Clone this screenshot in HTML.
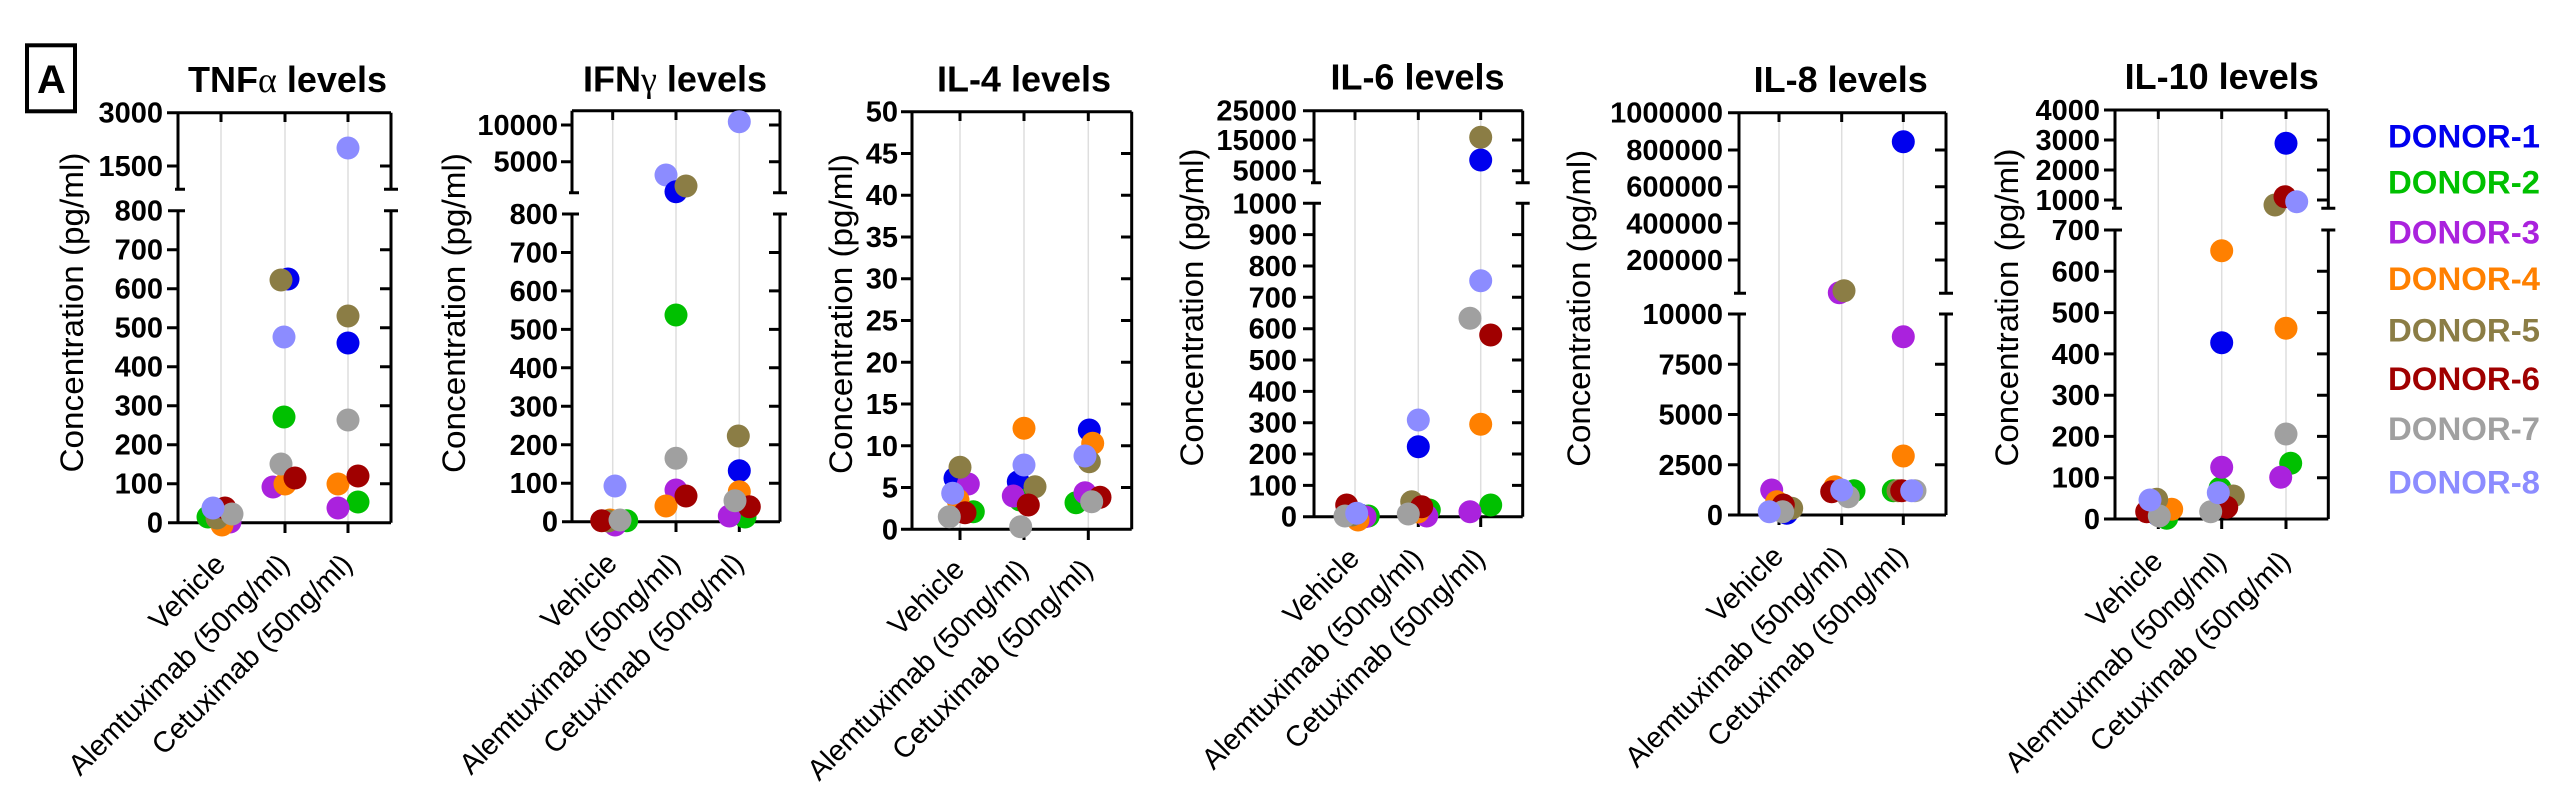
<!DOCTYPE html>
<html>
<head>
<meta charset="utf-8">
<style>
html,body{margin:0;padding:0;background:#fff;}
svg{display:block;}
text{font-family:"Liberation Sans",Arial,sans-serif;fill:#000;}
.t{font-size:36px;font-weight:bold;}
.tk{font-size:29px;font-weight:bold;}
.yt{font-size:32px;}
.xl{font-size:29px;}
.lg{font-size:32px;font-weight:bold;}
.ax{stroke:#000;stroke-width:3;fill:none;}
.gr{stroke:#dedede;stroke-width:1.5;fill:none;}
.gk{font-family:"Liberation Serif","DejaVu Serif",serif;font-weight:normal;}
</style>
</head>
<body>
<svg width="2560" height="785" viewBox="0 0 2560 785" xmlns="http://www.w3.org/2000/svg">
<rect width="2560" height="785" fill="#fff"/>

<!-- Panel label A -->
<rect x="27" y="45.3" width="48" height="66" fill="none" stroke="#000" stroke-width="4"/>
<text x="51.5" y="93" text-anchor="middle" style="font-size:40px;font-weight:bold;">A</text>

<!-- ================= PANEL 1 : TNF ================= -->
<path class="gr" d="M221 112.7V522.7M285 112.7V522.7M348 112.7V522.7"/>
<path class="ax" d="M178 112.7H391M168 522.7H391M178 112.7V189.3M178 210.7V522.7M391 112.7V189.3M391 210.7V522.7
M175 189.3H185M168 210.7H185M384 189.3H398M384 210.7H398
M167 112.7H178M167 166H178M167 249.7H178M167 288.7H178M167 327.7H178M167 366.7H178M167 405.7H178M167 444.7H178M167 483.7H178
M380 166H391M380 249.7H391M380 288.7H391M380 327.7H391M380 366.7H391M380 405.7H391M380 444.7H391M380 483.7H391
M221 112.7V122M285 112.7V122M348 112.7V122M221 522.7V533M285 522.7V533M348 522.7V533"/>
<g class="tk" text-anchor="end">
<text x="163" y="122.7" class="tk">3000</text>
<text x="163" y="176" class="tk">1500</text>
<text x="163" y="220.7" class="tk">800</text>
<text x="163" y="259.7" class="tk">700</text>
<text x="163" y="298.7" class="tk">600</text>
<text x="163" y="337.7" class="tk">500</text>
<text x="163" y="376.7" class="tk">400</text>
<text x="163" y="415.7" class="tk">300</text>
<text x="163" y="454.7" class="tk">200</text>
<text x="163" y="493.7" class="tk">100</text>
<text x="163" y="532.7" class="tk">0</text>
</g>
<text class="t" x="287.5" y="92" text-anchor="middle">TNF<tspan class="gk">α</tspan> levels</text>
<text class="yt" transform="translate(83,312.5) rotate(-90)" text-anchor="middle" textLength="320" lengthAdjust="spacingAndGlyphs">Concentration (pg/ml)</text>
<text class="xl" transform="translate(227,566) rotate(-45)" text-anchor="end">Vehicle</text>
<text class="xl" transform="translate(291,566) rotate(-45)" text-anchor="end">Alemtuximab (50ng/ml)</text>
<text class="xl" transform="translate(354,566) rotate(-45)" text-anchor="end">Cetuximab (50ng/ml)</text>
<g>
<circle cx="222" cy="515" r="11.5" fill="#0000ee"/>
<circle cx="208" cy="517" r="11.5" fill="#00c000"/>
<circle cx="230" cy="522" r="11.5" fill="#aa22dd"/>
<circle cx="222" cy="525" r="11.5" fill="#ff8000"/>
<circle cx="217" cy="518" r="11.5" fill="#8b7d45"/>
<circle cx="225" cy="508" r="11.5" fill="#a00000"/>
<circle cx="232" cy="514" r="11.5" fill="#a0a0a0"/>
<circle cx="213" cy="508" r="11.5" fill="#8c8cff"/>

<circle cx="288" cy="279" r="11.5" fill="#0000ee"/>
<circle cx="284" cy="417" r="11.5" fill="#00c000"/>
<circle cx="273" cy="487" r="11.5" fill="#aa22dd"/>
<circle cx="285" cy="484" r="11.5" fill="#ff8000"/>
<circle cx="281" cy="280" r="11.5" fill="#8b7d45"/>
<circle cx="281" cy="464" r="11.5" fill="#a0a0a0"/>
<circle cx="295" cy="478" r="11.5" fill="#a00000"/>
<circle cx="284" cy="337" r="11.5" fill="#8c8cff"/>

<circle cx="348" cy="343" r="11.5" fill="#0000ee"/>
<circle cx="358" cy="502" r="11.5" fill="#00c000"/>
<circle cx="338" cy="508" r="11.5" fill="#aa22dd"/>
<circle cx="338" cy="484" r="11.5" fill="#ff8000"/>
<circle cx="348" cy="316" r="11.5" fill="#8b7d45"/>
<circle cx="358" cy="476" r="11.5" fill="#a00000"/>
<circle cx="348" cy="420" r="11.5" fill="#a0a0a0"/>
<circle cx="348" cy="148" r="11.5" fill="#8c8cff"/>
</g>

<!-- ================= PANEL 2 : IFN ================= -->
<path class="gr" d="M612.7 110.7V521.7M676 110.7V521.7M739.3 110.7V521.7"/>
<path class="ax" d="M572 110.7H780M562 521.7H780M572 110.7V192.7M572 214V521.7M780 110.7V192.7M780 214V521.7
M569 192.7H579M562 214H579M773 192.7H787M773 214H787
M561 125H572M561 161.7H572M561 252.5H572M561 290.9H572M561 329.4H572M561 367.8H572M561 406.3H572M561 444.8H572M561 483.2H572
M769 125H780M769 161.7H780M769 252.5H780M769 290.9H780M769 329.4H780M769 367.8H780M769 406.3H780M769 444.8H780M769 483.2H780
M612.7 110.7V120M676 110.7V120M739.3 110.7V120M612.7 521.7V532M676 521.7V532M739.3 521.7V532"/>
<g text-anchor="end">
<text x="558" y="135" class="tk">10000</text>
<text x="558" y="171.7" class="tk">5000</text>
<text x="558" y="224" class="tk">800</text>
<text x="558" y="262.5" class="tk">700</text>
<text x="558" y="300.9" class="tk">600</text>
<text x="558" y="339.4" class="tk">500</text>
<text x="558" y="377.8" class="tk">400</text>
<text x="558" y="416.3" class="tk">300</text>
<text x="558" y="454.8" class="tk">200</text>
<text x="558" y="493.2" class="tk">100</text>
<text x="558" y="531.7" class="tk">0</text>
</g>
<text class="t" x="675" y="91.7" text-anchor="middle">IFN<tspan class="gk">γ</tspan> levels</text>
<text class="yt" transform="translate(465,313) rotate(-90)" text-anchor="middle" textLength="320" lengthAdjust="spacingAndGlyphs">Concentration (pg/ml)</text>
<text class="xl" transform="translate(618.7,565) rotate(-45)" text-anchor="end">Vehicle</text>
<text class="xl" transform="translate(682,565) rotate(-45)" text-anchor="end">Alemtuximab (50ng/ml)</text>
<text class="xl" transform="translate(745.3,565) rotate(-45)" text-anchor="end">Cetuximab (50ng/ml)</text>
<g>
<circle cx="612" cy="521" r="11.5" fill="#0000ee"/>
<circle cx="626.7" cy="520.7" r="11.5" fill="#00c000"/>
<circle cx="615" cy="525" r="11.5" fill="#aa22dd"/>
<circle cx="610" cy="520" r="11.5" fill="#ff8000"/>
<circle cx="608" cy="521" r="11.5" fill="#8b7d45"/>
<circle cx="601.7" cy="520.7" r="11.5" fill="#a00000"/>
<circle cx="620" cy="520" r="11.5" fill="#a0a0a0"/>
<circle cx="615" cy="486" r="11.5" fill="#8c8cff"/>

<circle cx="666" cy="175" r="11.5" fill="#8c8cff"/>
<circle cx="676" cy="191.7" r="11.5" fill="#0000ee"/>
<circle cx="676" cy="315" r="11.5" fill="#00c000"/>
<circle cx="676" cy="490" r="11.5" fill="#aa22dd"/>
<circle cx="666" cy="506" r="11.5" fill="#ff8000"/>
<circle cx="686" cy="186" r="11.5" fill="#8b7d45"/>
<circle cx="686" cy="496" r="11.5" fill="#a00000"/>
<circle cx="676" cy="458.3" r="11.5" fill="#a0a0a0"/>

<circle cx="739.3" cy="470.7" r="11.5" fill="#0000ee"/>
<circle cx="745" cy="517" r="11.5" fill="#00c000"/>
<circle cx="729.3" cy="516" r="11.5" fill="#aa22dd"/>
<circle cx="739.3" cy="491.7" r="11.5" fill="#ff8000"/>
<circle cx="738.3" cy="436" r="11.5" fill="#8b7d45"/>
<circle cx="749.3" cy="506.7" r="11.5" fill="#a00000"/>
<circle cx="735" cy="500.7" r="11.5" fill="#a0a0a0"/>
<circle cx="739.3" cy="121.7" r="11.5" fill="#8c8cff"/>
</g>

<!-- ================= PANEL 3 : IL-4 ================= -->
<path class="gr" d="M960 111.7V529.3M1024 111.7V529.3M1088.3 111.7V529.3"/>
<path class="ax" d="M912 111.7H1131.7M901 529.3H1131.7M912 111.7V529.3M1131.7 111.7V529.3
M901 111.7H912M901 153.5H912M901 195.2H912M901 237H912M901 278.7H912M901 320.5H912M901 362.3H912M901 404H912M901 445.8H912M901 487.5H912
M1121 153.5H1131.7M1121 195.2H1131.7M1121 237H1131.7M1121 278.7H1131.7M1121 320.5H1131.7M1121 362.3H1131.7M1121 404H1131.7M1121 445.8H1131.7M1121 487.5H1131.7
M960 111.7V121M1024 111.7V121M1088.3 111.7V121M960 529.3V540M1024 529.3V540M1088.3 529.3V540"/>
<g text-anchor="end">
<text x="898" y="121.7" class="tk">50</text>
<text x="898" y="163.5" class="tk">45</text>
<text x="898" y="205.2" class="tk">40</text>
<text x="898" y="247" class="tk">35</text>
<text x="898" y="288.7" class="tk">30</text>
<text x="898" y="330.5" class="tk">25</text>
<text x="898" y="372.3" class="tk">20</text>
<text x="898" y="414" class="tk">15</text>
<text x="898" y="455.8" class="tk">10</text>
<text x="898" y="497.5" class="tk">5</text>
<text x="898" y="539.3" class="tk">0</text>
</g>
<text class="t" x="1024" y="91.7" text-anchor="middle">IL-4 levels</text>
<text class="yt" transform="translate(852,314) rotate(-90)" text-anchor="middle" textLength="320" lengthAdjust="spacingAndGlyphs">Concentration (pg/ml)</text>
<text class="xl" transform="translate(966,571) rotate(-45)" text-anchor="end">Vehicle</text>
<text class="xl" transform="translate(1030,571) rotate(-45)" text-anchor="end">Alemtuximab (50ng/ml)</text>
<text class="xl" transform="translate(1094.3,571) rotate(-45)" text-anchor="end">Cetuximab (50ng/ml)</text>
<g>
<circle cx="955" cy="478.3" r="11.5" fill="#0000ee"/>
<circle cx="973.3" cy="511.7" r="11.5" fill="#00c000"/>
<circle cx="968.3" cy="484" r="11.5" fill="#aa22dd"/>
<circle cx="958" cy="500" r="11.5" fill="#ff8000"/>
<circle cx="960" cy="467.3" r="11.5" fill="#8b7d45"/>
<circle cx="965" cy="512.7" r="11.5" fill="#a00000"/>
<circle cx="949.3" cy="516.7" r="11.5" fill="#a0a0a0"/>
<circle cx="952.7" cy="493.3" r="11.5" fill="#8c8cff"/>

<circle cx="1018.3" cy="481.7" r="11.5" fill="#0000ee"/>
<circle cx="1020" cy="500" r="11.5" fill="#00c000"/>
<circle cx="1013.3" cy="496" r="11.5" fill="#aa22dd"/>
<circle cx="1024" cy="428.3" r="11.5" fill="#ff8000"/>
<circle cx="1035" cy="486.7" r="11.5" fill="#8b7d45"/>
<circle cx="1028.3" cy="505" r="11.5" fill="#a00000"/>
<circle cx="1020.7" cy="526.7" r="11.5" fill="#a0a0a0"/>
<circle cx="1024" cy="465" r="11.5" fill="#8c8cff"/>

<circle cx="1089.3" cy="430" r="11.5" fill="#0000ee"/>
<circle cx="1076" cy="502.7" r="11.5" fill="#00c000"/>
<circle cx="1085" cy="492.7" r="11.5" fill="#aa22dd"/>
<circle cx="1092.7" cy="443.3" r="11.5" fill="#ff8000"/>
<circle cx="1089.3" cy="461.7" r="11.5" fill="#8b7d45"/>
<circle cx="1100" cy="497.3" r="11.5" fill="#a00000"/>
<circle cx="1091.7" cy="501.7" r="11.5" fill="#a0a0a0"/>
<circle cx="1085" cy="456" r="11.5" fill="#8c8cff"/>
</g>

<!-- ================= PANEL 4 : IL-6 ================= -->
<path class="gr" d="M1355 110.7V516.7M1418.3 110.7V516.7M1480.7 110.7V516.7"/>
<path class="ax" d="M1314 110.7H1522.7M1303 516.7H1522.7M1314 110.7V182.7M1314 203.3V516.7M1522.7 110.7V182.7M1522.7 203.3V516.7
M1311 182.7H1321M1303 203.3H1321M1515.7 182.7H1529.7M1515.7 203.3H1529.7
M1303 110.7H1314M1303 140H1314M1303 170.7H1314M1303 234.6H1314M1303 266H1314M1303 297.3H1314M1303 328.7H1314M1303 360H1314M1303 391.4H1314M1303 422.7H1314M1303 454H1314M1303 485.4H1314
M1512 140H1522.7M1512 170.7H1522.7M1512 234.6H1522.7M1512 266H1522.7M1512 297.3H1522.7M1512 328.7H1522.7M1512 360H1522.7M1512 391.4H1522.7M1512 422.7H1522.7M1512 454H1522.7M1512 485.4H1522.7
M1355 110.7V120M1418.3 110.7V120M1480.7 110.7V120M1355 516.7V527M1418.3 516.7V527M1480.7 516.7V527"/>
<g text-anchor="end">
<text x="1297" y="120.7" class="tk">25000</text>
<text x="1297" y="150" class="tk">15000</text>
<text x="1297" y="180.7" class="tk">5000</text>
<text x="1297" y="213.3" class="tk">1000</text>
<text x="1297" y="244.6" class="tk">900</text>
<text x="1297" y="276" class="tk">800</text>
<text x="1297" y="307.3" class="tk">700</text>
<text x="1297" y="338.7" class="tk">600</text>
<text x="1297" y="370" class="tk">500</text>
<text x="1297" y="401.4" class="tk">400</text>
<text x="1297" y="432.7" class="tk">300</text>
<text x="1297" y="464" class="tk">200</text>
<text x="1297" y="495.4" class="tk">100</text>
<text x="1297" y="526.7" class="tk">0</text>
</g>
<text class="t" x="1417.5" y="89.5" text-anchor="middle">IL-6 levels</text>
<text class="yt" transform="translate(1203,307.5) rotate(-90)" text-anchor="middle" textLength="318" lengthAdjust="spacingAndGlyphs">Concentration (pg/ml)</text>
<text class="xl" transform="translate(1361,560) rotate(-45)" text-anchor="end">Vehicle</text>
<text class="xl" transform="translate(1424.3,560) rotate(-45)" text-anchor="end">Alemtuximab (50ng/ml)</text>
<text class="xl" transform="translate(1486.7,560) rotate(-45)" text-anchor="end">Cetuximab (50ng/ml)</text>
<g>
<circle cx="1360" cy="515" r="11.5" fill="#0000ee"/>
<circle cx="1368.3" cy="516" r="11.5" fill="#00c000"/>
<circle cx="1365" cy="516.7" r="11.5" fill="#aa22dd"/>
<circle cx="1358" cy="520" r="11.5" fill="#ff8000"/>
<circle cx="1352" cy="515" r="11.5" fill="#8b7d45"/>
<circle cx="1346.7" cy="505" r="11.5" fill="#a00000"/>
<circle cx="1345" cy="516" r="11.5" fill="#a0a0a0"/>
<circle cx="1356.7" cy="513.3" r="11.5" fill="#8c8cff"/>

<circle cx="1418.3" cy="446.7" r="11.5" fill="#0000ee"/>
<circle cx="1429.3" cy="510" r="11.5" fill="#00c000"/>
<circle cx="1426.7" cy="516" r="11.5" fill="#aa22dd"/>
<circle cx="1418" cy="512" r="11.5" fill="#ff8000"/>
<circle cx="1411.7" cy="501.7" r="11.5" fill="#8b7d45"/>
<circle cx="1421.7" cy="506.7" r="11.5" fill="#a00000"/>
<circle cx="1408.3" cy="514" r="11.5" fill="#a0a0a0"/>
<circle cx="1418.3" cy="420" r="11.5" fill="#8c8cff"/>

<circle cx="1480.7" cy="160" r="11.5" fill="#0000ee"/>
<circle cx="1490.7" cy="505" r="11.5" fill="#00c000"/>
<circle cx="1470" cy="511.7" r="11.5" fill="#aa22dd"/>
<circle cx="1480.7" cy="424.3" r="11.5" fill="#ff8000"/>
<circle cx="1480.7" cy="137.3" r="11.5" fill="#8b7d45"/>
<circle cx="1490.7" cy="335" r="11.5" fill="#a00000"/>
<circle cx="1470" cy="318.3" r="11.5" fill="#a0a0a0"/>
<circle cx="1480.7" cy="280.7" r="11.5" fill="#8c8cff"/>
</g>

<!-- ================= PANEL 5 : IL-8 ================= -->
<path class="gr" d="M1779 112.7V515M1841.7 112.7V515M1903.3 112.7V515"/>
<path class="ax" d="M1739 112.7H1946M1728 515H1946M1739 112.7V293.3M1739 314V515M1946 112.7V293.3M1946 314V515
M1734 293.3H1746M1728 314H1746M1939 293.3H1953M1939 314H1953
M1728 112.7H1739M1728 150H1739M1728 186.7H1739M1728 223.3H1739M1728 260H1739M1728 364.3H1739M1728 414.5H1739M1728 464.8H1739
M1935 150H1946M1935 186.7H1946M1935 223.3H1946M1935 260H1946M1935 364.3H1946M1935 414.5H1946M1935 464.8H1946
M1779 112.7V122M1841.7 112.7V122M1903.3 112.7V122M1779 515V525M1841.7 515V525M1903.3 515V525"/>
<g text-anchor="end">
<text x="1723" y="122.7" class="tk">1000000</text>
<text x="1723" y="160" class="tk">800000</text>
<text x="1723" y="196.7" class="tk">600000</text>
<text x="1723" y="233.3" class="tk">400000</text>
<text x="1723" y="270" class="tk">200000</text>
<text x="1723" y="324" class="tk">10000</text>
<text x="1723" y="374.3" class="tk">7500</text>
<text x="1723" y="424.5" class="tk">5000</text>
<text x="1723" y="474.8" class="tk">2500</text>
<text x="1723" y="525" class="tk">0</text>
</g>
<text class="t" x="1840.7" y="92" text-anchor="middle">IL-8 levels</text>
<text class="yt" transform="translate(1590,308.3) rotate(-90)" text-anchor="middle" textLength="317" lengthAdjust="spacingAndGlyphs">Concentration (pg/ml)</text>
<text class="xl" transform="translate(1785,558) rotate(-45)" text-anchor="end">Vehicle</text>
<text class="xl" transform="translate(1847.7,558) rotate(-45)" text-anchor="end">Alemtuximab (50ng/ml)</text>
<text class="xl" transform="translate(1909.3,558) rotate(-45)" text-anchor="end">Cetuximab (50ng/ml)</text>
<g>
<circle cx="1786.7" cy="513.3" r="11.5" fill="#0000ee"/>
<circle cx="1785" cy="510" r="11.5" fill="#00c000"/>
<circle cx="1771.7" cy="490" r="11.5" fill="#aa22dd"/>
<circle cx="1776.7" cy="501.7" r="11.5" fill="#ff8000"/>
<circle cx="1791.7" cy="508.3" r="11.5" fill="#8b7d45"/>
<circle cx="1783.3" cy="505" r="11.5" fill="#a00000"/>
<circle cx="1782.7" cy="511.7" r="11.5" fill="#a0a0a0"/>
<circle cx="1769.3" cy="511.7" r="11.5" fill="#8c8cff"/>

<circle cx="1840" cy="490" r="11.5" fill="#0000ee"/>
<circle cx="1854" cy="490.7" r="11.5" fill="#00c000"/>
<circle cx="1839.3" cy="292.7" r="11.5" fill="#aa22dd"/>
<circle cx="1835" cy="486.7" r="11.5" fill="#ff8000"/>
<circle cx="1844" cy="290.7" r="11.5" fill="#8b7d45"/>
<circle cx="1831.7" cy="491.7" r="11.5" fill="#a00000"/>
<circle cx="1848.3" cy="496.7" r="11.5" fill="#a0a0a0"/>
<circle cx="1841.7" cy="490" r="11.5" fill="#8c8cff"/>

<circle cx="1903.3" cy="141.7" r="11.5" fill="#0000ee"/>
<circle cx="1893.3" cy="490.7" r="11.5" fill="#00c000"/>
<circle cx="1903.3" cy="336.7" r="11.5" fill="#aa22dd"/>
<circle cx="1903.3" cy="456" r="11.5" fill="#ff8000"/>
<circle cx="1898" cy="490.7" r="11.5" fill="#8b7d45"/>
<circle cx="1901.7" cy="490.7" r="11.5" fill="#a00000"/>
<circle cx="1915" cy="490.7" r="11.5" fill="#a0a0a0"/>
<circle cx="1911.7" cy="490.7" r="11.5" fill="#8c8cff"/>
</g>

<!-- ================= PANEL 6 : IL-10 ================= -->
<path class="gr" d="M2158.3 110V519M2221.7 110V519M2286 110V519"/>
<path class="ax" d="M2115 110H2328.3M2104 519H2328.3M2115 110V208.3M2115 230V519M2328.3 110V208.3M2328.3 230V519
M2112 208.3H2122M2104 230H2122M2321.3 208.3H2335.3M2321.3 230H2335.3
M2104 110H2115M2104 140H2115M2104 170H2115M2104 200H2115M2104 271.3H2115M2104 312.6H2115M2104 353.9H2115M2104 395.2H2115M2104 436.4H2115M2104 477.7H2115
M2317 140H2328.3M2317 170H2328.3M2317 200H2328.3M2317 271.3H2328.3M2317 312.6H2328.3M2317 353.9H2328.3M2317 395.2H2328.3M2317 436.4H2328.3M2317 477.7H2328.3
M2158.3 110V119M2221.7 110V119M2286 110V119M2158.3 519V529M2221.7 519V529M2286 519V529"/>
<g text-anchor="end">
<text x="2100" y="120" class="tk">4000</text>
<text x="2100" y="150" class="tk">3000</text>
<text x="2100" y="180" class="tk">2000</text>
<text x="2100" y="210" class="tk">1000</text>
<text x="2100" y="240" class="tk">700</text>
<text x="2100" y="281.3" class="tk">600</text>
<text x="2100" y="322.6" class="tk">500</text>
<text x="2100" y="363.9" class="tk">400</text>
<text x="2100" y="405.2" class="tk">300</text>
<text x="2100" y="446.4" class="tk">200</text>
<text x="2100" y="487.7" class="tk">100</text>
<text x="2100" y="529" class="tk">0</text>
</g>
<text class="t" x="2221.7" y="89" text-anchor="middle">IL-10 levels</text>
<text class="yt" transform="translate(2018,307.5) rotate(-90)" text-anchor="middle" textLength="318" lengthAdjust="spacingAndGlyphs">Concentration (pg/ml)</text>
<text class="xl" transform="translate(2164.3,563) rotate(-45)" text-anchor="end">Vehicle</text>
<text class="xl" transform="translate(2227.7,563) rotate(-45)" text-anchor="end">Alemtuximab (50ng/ml)</text>
<text class="xl" transform="translate(2292,563) rotate(-45)" text-anchor="end">Cetuximab (50ng/ml)</text>
<g>
<circle cx="2158" cy="515" r="11.5" fill="#0000ee"/>
<circle cx="2166.7" cy="518.3" r="11.5" fill="#00c000"/>
<circle cx="2160" cy="512" r="11.5" fill="#aa22dd"/>
<circle cx="2171.7" cy="509.3" r="11.5" fill="#ff8000"/>
<circle cx="2156.7" cy="499.3" r="11.5" fill="#8b7d45"/>
<circle cx="2146.7" cy="511.7" r="11.5" fill="#a00000"/>
<circle cx="2159.3" cy="516" r="11.5" fill="#a0a0a0"/>
<circle cx="2150" cy="500" r="11.5" fill="#8c8cff"/>

<circle cx="2221.7" cy="342.7" r="11.5" fill="#0000ee"/>
<circle cx="2220" cy="488.3" r="11.5" fill="#00c000"/>
<circle cx="2221.7" cy="467.3" r="11.5" fill="#aa22dd"/>
<circle cx="2221.7" cy="250.7" r="11.5" fill="#ff8000"/>
<circle cx="2233.3" cy="496" r="11.5" fill="#8b7d45"/>
<circle cx="2226.7" cy="507.3" r="11.5" fill="#a00000"/>
<circle cx="2210.7" cy="511.7" r="11.5" fill="#a0a0a0"/>
<circle cx="2218.3" cy="492.7" r="11.5" fill="#8c8cff"/>

<circle cx="2286" cy="143.3" r="11.5" fill="#0000ee"/>
<circle cx="2290.7" cy="463.3" r="11.5" fill="#00c000"/>
<circle cx="2280.7" cy="477.3" r="11.5" fill="#aa22dd"/>
<circle cx="2286" cy="328.3" r="11.5" fill="#ff8000"/>
<circle cx="2275" cy="205" r="11.5" fill="#8b7d45"/>
<circle cx="2285" cy="196.7" r="11.5" fill="#a00000"/>
<circle cx="2286" cy="434" r="11.5" fill="#a0a0a0"/>
<circle cx="2296.7" cy="201.7" r="11.5" fill="#8c8cff"/>
</g>

<!-- ================= LEGEND ================= -->
<text class="lg" x="2388" y="147.3" fill="#0000ee" style="fill:#0000ee" textLength="152" lengthAdjust="spacingAndGlyphs">DONOR-1</text>
<text class="lg" x="2388" y="193.3" style="fill:#00c000" textLength="152" lengthAdjust="spacingAndGlyphs">DONOR-2</text>
<text class="lg" x="2388" y="243.3" style="fill:#aa22dd" textLength="152" lengthAdjust="spacingAndGlyphs">DONOR-3</text>
<text class="lg" x="2388" y="290" style="fill:#ff8000" textLength="152" lengthAdjust="spacingAndGlyphs">DONOR-4</text>
<text class="lg" x="2388" y="341.7" style="fill:#8b7d45" textLength="152" lengthAdjust="spacingAndGlyphs">DONOR-5</text>
<text class="lg" x="2388" y="390" style="fill:#a00000" textLength="152" lengthAdjust="spacingAndGlyphs">DONOR-6</text>
<text class="lg" x="2388" y="440" style="fill:#a0a0a0" textLength="152" lengthAdjust="spacingAndGlyphs">DONOR-7</text>
<text class="lg" x="2388" y="493.3" style="fill:#8c8cff" textLength="152" lengthAdjust="spacingAndGlyphs">DONOR-8</text>
</svg>
</body>
</html>
